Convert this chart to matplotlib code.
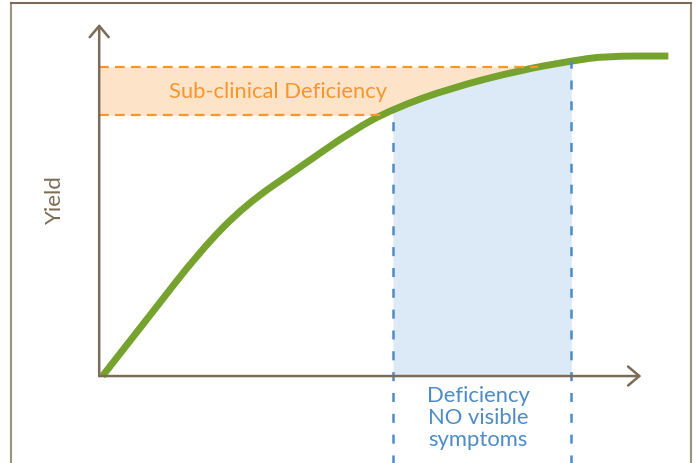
import numpy as np
from matplotlib import pyplot as plt
from matplotlib.path import Path
from matplotlib.patches import PathPatch

plt.rcParams['font.family'] = ['Lato', 'DejaVu Sans']
plt.rcParams['lines.scale_dashes'] = False

# yield response curve (x: nutrient supply, y: yield), both 0..100
curve_x = [0.6, 9.4, 18.6, 26.9, 37.1, 46.9, 54.2, 64.8, 77.7, 87.1, 93.4, 105]
curve_y = [0, 17.3, 35.5, 48.6, 59.4, 69.9, 75.9, 81.8, 86.9, 89.5, 90.9, 90.9]

# sub-clinical band (yield range) and deficiency window (supply range)
band_y = [74.1, 87.8]
window_x = [54.2, 87.1]

band_label = "Sub-clinical Deficiency"
window_label = "Deficiency\nNO visible\nsymptoms"
y_label = "Yield"

brown = "#7d6b58"
frame_col = "#a09282"
green = "#76a22e"
orange = "#f7962d"
orange_fill = "#fde4c8"
blue = "#4d8cc6"
blue_fill = "#dceaf7"

fig = plt.figure(figsize=(6.96, 4.64), dpi=100)
ax = fig.add_axes([0, 0, 1, 1])
ax.set_xlim(-18.3, 110.1)
ax.set_ylim(-24.7, 107.1)
ax.axis("off")

cx = np.array(curve_x, dtype=float)
cy = np.array(curve_y, dtype=float)

# frame (top edge a bit darker, like the source)
ax.plot([-16.2, -16.2], [-30, 106.0], color=frame_col, lw=1.5, clip_on=False)
ax.plot([109.2, 109.2], [-30, 106.0], color=frame_col, lw=1.5, clip_on=False)
ax.plot([-16.2, 109.2], [106.0, 106.0], color=brown, lw=1.5, clip_on=False)

# orange band: left of the curve
yy = np.linspace(band_y[0], band_y[1], 50)
ax.fill_betweenx(yy, 0, np.interp(yy, cy[:-1], cx[:-1]), color=orange_fill, lw=0)
for yb in band_y:
    ax.plot([0, np.interp(yb, cy[:-1], cx[:-1])], [yb, yb], color=orange, lw=1.6,
            dashes=(7, 4.5))

# blue window: under the curve
xx = np.linspace(window_x[0], window_x[1], 50)
ax.fill_between(xx, 0, np.interp(xx, cx, cy), color=blue_fill, lw=0)
for xb in window_x:
    ax.plot([xb, xb], [-30, np.interp(xb, cx, cy)], color=blue, lw=1.8,
            dashes=(6.5, 8.5), clip_on=False)

# axes with open arrow heads
arrow = dict(arrowstyle="->,head_length=0.45,head_width=0.38", color=brown,
             lw=1.8, mutation_scale=18, shrinkA=0, shrinkB=0)
ax.annotate("", xy=(0, 100), xytext=(0, 0), arrowprops=arrow)
ax.annotate("", xy=(100, 0), xytext=(0, 0), arrowprops=arrow)

# smooth curve: the read points act as quadratic bezier controls
pts = np.column_stack([cx, cy])
verts = [pts[0]]
codes = [Path.MOVETO]
for i in range(1, len(pts) - 1):
    verts += [pts[i], (pts[i] + pts[i + 1]) / 2]
    codes += [Path.CURVE3, Path.CURVE3]
verts.append(pts[-1])
codes.append(Path.LINETO)
ax.add_patch(PathPatch(Path(verts, codes), fill=False, edgecolor=green, lw=5,
                       capstyle="butt", joinstyle="round"))

ax.text(33.0, 81.0, band_label, color=orange, fontsize=15.8, ha="center", va="center")
ax.text(69.9, -11.6, window_label, color=blue, fontsize=15.8, ha="center", va="center",
        linespacing=1.13)
ax.text(-8.1, 50.3, y_label, color=brown, fontsize=16, ha="center", va="center",
        rotation=90)

fig.savefig("out.png", dpi=100)
